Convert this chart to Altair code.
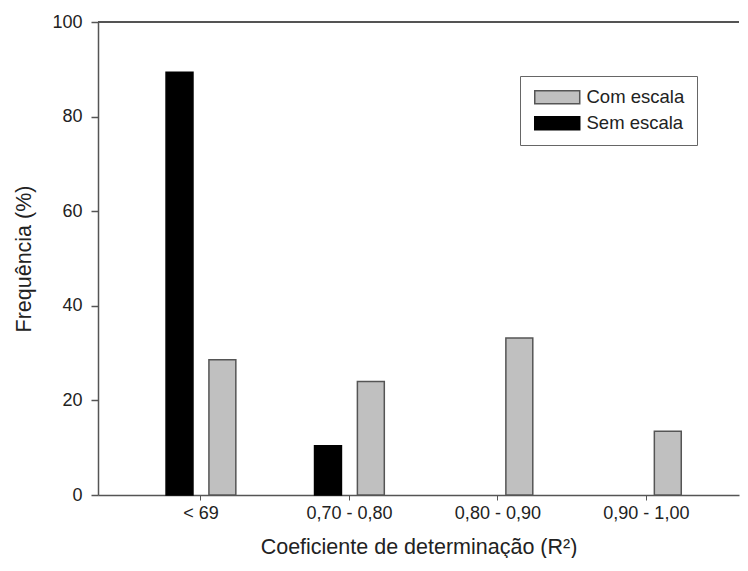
import altair as alt
import pandas as pd

categories = ["< 69", "0,70 - 0,80", "0,80 - 0,90", "0,90 - 1,00"]
series = ["Com escala", "Sem escala"]
com_escala = [28.6, 24.0, 33.2, 13.5]
sem_escala = [89.4, 10.4, 0.0, 0.0]
y_ticks = [0, 20, 40, 60, 80, 100]

rows = []
for c, v in zip(categories, com_escala):
    rows.append({"cat": c, "serie": "Com escala", "value": v})
for c, v in zip(categories, sem_escala):
    rows.append({"cat": c, "serie": "Sem escala", "value": v})
df = pd.DataFrame(rows)

FONT = "Liberation Sans"
AX = "#555555"

bars = alt.Chart(df).transform_filter("datum.value > 0").mark_bar(strokeWidth=1.5).encode(
    x=alt.X("cat:N", sort=categories,
            scale=alt.Scale(paddingInner=0.53, paddingOuter=0.4236, align=0.541),
            axis=alt.Axis(title="Coeficiente de determinação (R²)", labelAngle=0,
                          tickSize=5, labelPadding=4, titlePadding=14,
                          domainColor=AX, tickColor=AX, domainWidth=1.5)),
    xOffset=alt.XOffset("serie:N",
                        scale=alt.Scale(domain=["Sem escala", "Com escala"],
                                        paddingInner=0.372, paddingOuter=0)),
    y=alt.Y("value:Q", scale=alt.Scale(domain=[0, 100]),
            axis=alt.Axis(values=y_ticks, title="Frequência (%)", grid=False,
                          tickSize=7, labelPadding=9, titlePadding=16,
                          domainColor=AX, tickColor=AX, domainWidth=1.5, tickWidth=1.5)),
    fill=alt.Fill("serie:N",
                  scale=alt.Scale(domain=series, range=["#c0c0c0", "#000000"]),
                  legend=alt.Legend(title=None, orient="none", legendX=422, legendY=54,
                                    symbolType="M-1,-1H5.92V1H-1Z", symbolSize=169,
                                    symbolStrokeColor=AX, symbolStrokeWidth=1.5,
                                    labelOffset=36, padding=12, rowPadding=6,
                                    strokeColor="#666666")),
    stroke=alt.Stroke("serie:N",
                      scale=alt.Scale(domain=series, range=[AX, "#000000"]),
                      legend=None),
)

top_line = alt.Chart(df).mark_rule(color=AX, strokeWidth=1.5).encode(
    y=alt.value(0), x=alt.value(0), x2=alt.value("width")
)

chart = alt.layer(bars, top_line).properties(
    width=732, height=550,
    autosize=alt.AutoSizeParams(type="fit", contains="padding"),
    padding={"left": 5, "top": 5, "right": 0, "bottom": 0},
).configure_view(stroke=None).configure_axis(
    labelFont=FONT, titleFont=FONT, labelFontSize=18, titleFontSize=21.5,
    labelColor="#222222", titleColor="#222222", titleFontWeight="normal"
).configure_legend(
    labelFont=FONT, labelFontSize=18.5, labelColor="#222222"
)

chart.save("out.html", embed_options={"renderer": "svg", "actions": False})
